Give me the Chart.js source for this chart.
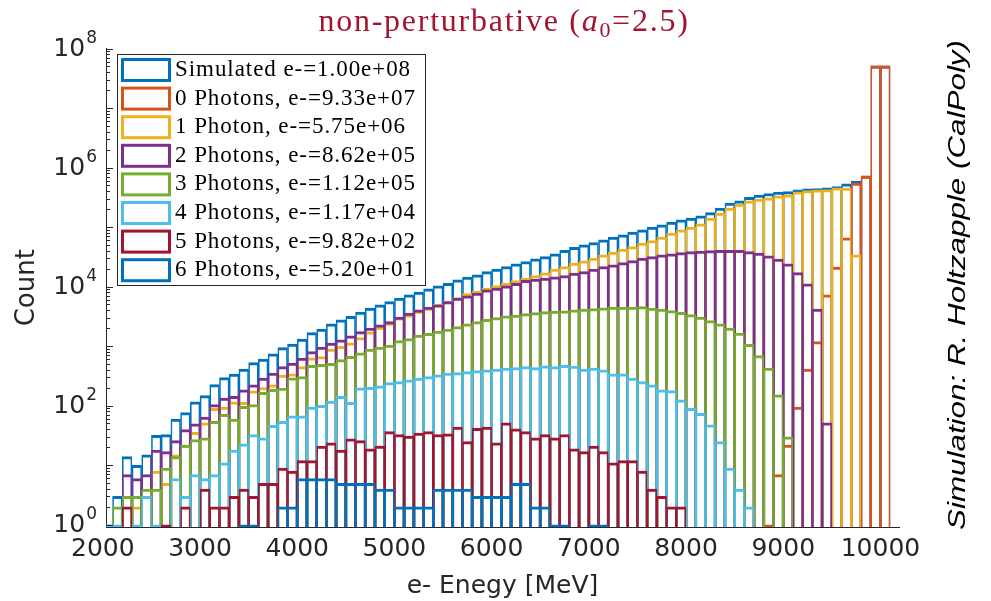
<!DOCTYPE html>
<html>
<head>
<meta charset="utf-8">
<title>non-perturbative histogram</title>
<script src="https://cdn.jsdelivr.net/npm/chart.js@4.4.0/dist/chart.umd.min.js"></script>
<style>
  html, body { margin: 0; padding: 0; background: #ffffff; }
  #wrap { width: 991px; height: 601px; position: relative; }
</style>
</head>
<body>
<div id="wrap"><canvas id="histChart"></canvas></div>
<script>
// bin centres in MeV (100 MeV bins)
const binCenters = [2050, 2150, 2250, 2350, 2450, 2550, 2650, 2750, 2850, 2950,
  3050, 3150, 3250, 3350, 3450, 3550, 3650, 3750, 3850, 3950,
  4050, 4150, 4250, 4350, 4450, 4550, 4650, 4750, 4850, 4950,
  5050, 5150, 5250, 5350, 5450, 5550, 5650, 5750, 5850, 5950,
  6050, 6150, 6250, 6350, 6450, 6550, 6650, 6750, 6850, 6950,
  7050, 7150, 7250, 7350, 7450, 7550, 7650, 7750, 7850, 7950,
  8050, 8150, 8250, 8350, 8450, 8550, 8650, 8750, 8850, 8950,
  9050, 9150, 9250, 9350, 9450, 9550, 9650, 9750, 9850, 9950,
  10050];

const xTicks = [2000, 3000, 4000, 5000, 6000, 7000, 8000, 9000, 10000];
const yTicks = [1, 1e2, 1e4, 1e6, 1e8];

const seriesLabels = [
  "Simulated e-=1.00e+08",
  "0 Photons, e-=9.33e+07",
  "1 Photon, e-=5.75e+06",
  "2 Photons, e-=8.62e+05",
  "3 Photons, e-=1.12e+05",
  "4 Photons, e-=1.17e+04",
  "5 Photons, e-=9.82e+02",
  "6 Photons, e-=5.20e+01"
];
const seriesColors = ["#0072BD", "#D95319", "#EDB120", "#7E2F8E", "#77AC30", "#4DBEEE", "#A2142F", "#0072BD"];

const simulated = [1, 3, 14, 10, 15, 32, 33, 60, 77, 117,
  148, 228, 299, 341, 413, 535, 608, 748, 955, 1090,
  1320, 1710, 1950, 2400, 2800, 3200, 3750, 4380, 4980, 5670,
  6450, 7340, 8130, 9250, 10400, 11500, 13100, 14600, 15900, 18100,
  19800, 22000, 24400, 26600, 29600, 32300, 35900, 41000, 46000, 50800,
  55600, 61600, 68400, 74800, 83000, 90800, 100700, 110200, 122200, 133600,
  142600, 156000, 177400, 210000, 254800, 278700, 320000, 350000, 370000, 390000,
  400000, 427000, 444000, 450000, 461000, 485000, 538000, 597000, 734000, 52000000,
  52000000];

const photons0 = [null, null, null, null, null, null, null, null, null, null,
  null, null, null, null, null, null, null, null, null, null,
  null, null, null, null, null, null, null, null, null, null,
  null, null, null, null, null, null, null, null, null, null,
  null, null, null, null, null, null, null, null, null, null,
  null, null, null, null, null, null, null, null, null, null,
  null, null, null, null, null, null, null, null, 1, 7,
  22, 95, 414, 1205, 7340, 21400, 66600, 553000, 730000, 52000000,
  52000000];

const photons1 = [null, null, null, 2, null, 8, 5, 15, 22, 36,
  52, 91, 95, 117, 114, 179, 203, 225, 330, 345,
  457, 640, 674, 900, 1000, 1150, 1400, 1750, 2100, 2450,
  3000, 3400, 3900, 4400, 5100, 5700, 6600, 7700, 8500, 9500,
  10500, 11500, 12700, 14000, 15500, 17200, 19800, 22000, 25000, 27300,
  30300, 34500, 38300, 43000, 47600, 54200, 60100, 68400, 79800, 90800,
  100700, 114500, 142600, 173000, 210000, 245000, 279000, 298000, 313000, 338000,
  352000, 395000, 416000, 427000, 432000, 461000, 455000, 34500, null, null,
  null];

const photons2 = [null, null, 7, 6, 7, 18, 17, 26, 40, 50,
  65, 105, 135, 144, 186, 225, 292, 354, 458, 521,
  633, 818, 968, 1130, 1285, 1500, 1775, 2020, 2300, 2610,
  3090, 3610, 4100, 4550, 4980, 5670, 6450, 7060, 7830, 8910,
  9500, 10400, 11500, 12800, 13500, 14000, 14700, 15500, 17000, 18100,
  19800, 21900, 23400, 25600, 27700, 30300, 32300, 34500, 35900, 37700,
  39300, 40000, 40500, 41000, 41000, 41000, 39300, 36800, 33200, 29200,
  24400, 17400, 11200, 4220, 52, null, null, null, null, null,
  null];

const photons3 = [null, 2, 3, 3, 4, 4, 9, 14, 22, 27,
  29, 55, 72, 60, 98, 105, 168, 190, 198, 295,
  311, 480, 500, 520, 600, 680, 780, 900, 970, 1050,
  1250, 1350, 1550, 1650, 1800, 1950, 2150, 2400, 2600, 2850,
  3050, 3250, 3350, 3550, 3700, 3850, 3900, 3950, 4100, 4220,
  4330, 4440, 4550, 4550, 4550, 4670, 4380, 4220, 4000, 3710,
  3430, 3090, 2720, 2390, 2020, 1665, 1080, 700, 430, 153,
  30, null, null, null, null, null, null, null, null, null,
  null];

const photons4 = [1, 1, null, 1, 3, 1, null, 6, 3, 7,
  6, 7, 11, 18, 23, 33, 29, 47, 55, 68,
  68, 95, 102, 120, 144, 115, 200, 205, 217, 247,
  256, 273, 292, 311, 332, 354, 363, 378, 393, 403,
  413, 430, 441, 458, 441, 470, 458, 480, 465, 413,
  430, 403, 345, 345, 292, 256, 225, 186, 181, 126,
  91, 75, 48, 25, 9, 4, 2, null, null, null,
  null, null, null, null, null, null, null, null, null, null,
  null];

const photons5 = [null, null, 2, null, null, null, 1, null, 2, null,
  4, 2, 2, 3, 4, 3, 5, 5, 9, 8,
  12, 12, 21, 24, 18, 28, 26, 19, 21, 37,
  33, 31, 35, 37, 33, 34, 44, 25, 42, 44,
  24, 52, 41, 37, 29, 33, 29, 33, 19, 17,
  21, 17, 11, 12, 12, 8, 4, 3, 2, 2,
  null, null, null, null, null, null, null, null, null, null,
  null, null, null, null, null, null, null, null, null, null,
  null];

const photons6 = [null, null, null, null, null, null, null, null, null, null,
  null, null, null, null, 1, 1, null, null, 2, 2,
  6, 6, 6, 6, 5, 5, 5, 5, 4, 4,
  2, 2, 2, 2, 4, 4, 4, 4, 3, 3,
  3, 3, 5, 5, 2, 2, 1, 1, null, null,
  1, 1, null, null, null, null, null, null, null, null,
  null, null, null, null, null, null, null, null, null, null,
  null, null, null, null, null, null, null, null, null, null,
  null];

const creditText = "Simulation: R. Holtzapple (CalPoly)";
const axisGray = "#262626";

const allSeries = [simulated, photons0, photons1, photons2, photons3, photons4, photons5, photons6];

const datasets = allSeries.map(function (vals, i) {
  return {
    label: seriesLabels[i],
    data: binCenters.map(function (x, j) { return { x: x, y: vals[j] }; }),
    borderColor: seriesColors[i],
    backgroundColor: "rgba(0,0,0,0)",
    borderWidth: { top: 3, left: 1.6, right: 1.6, bottom: 0 },
    grouped: false,
    // a touch wider than the bin so neighbouring edges overlap (no light seam)
    barPercentage: 1.06,
    categoryPercentage: 1,
    inflateAmount: 0,
    base: 0.5,
    clip: 0,
    order: allSeries.length - 1 - i   // first series drawn first (at the back)
  };
});

/* ==========================
   LEGEND BOX (inside axes)
========================== */
function drawLegend(chart) {
  const ctx = chart.ctx;
  ctx.save();
  ctx.fillStyle = "#ffffff";
  ctx.fillRect(117.5, 54.5, 308, 231);
  ctx.strokeStyle = axisGray;
  ctx.lineWidth = 1;
  ctx.strokeRect(117.5, 54.5, 308, 231);

  ctx.font = '23px "Liberation Serif"';
  const natural = ctx.measureText(seriesLabels[0]).width;
  const spacing = (236 - natural) / seriesLabels[0].length;
  if ("letterSpacing" in ctx) ctx.letterSpacing = spacing.toFixed(2) + "px";

  chart.data.datasets.forEach(function (ds, i) {
    const cy = 69.5 + 28.6 * i;
    ctx.lineWidth = 3;
    ctx.strokeStyle = ds.borderColor;
    ctx.strokeRect(122.5, cy - 10, 47, 21);
    ctx.fillStyle = "#000000";
    ctx.textAlign = "left";
    ctx.textBaseline = "alphabetic";
    ctx.fillText(ds.label, 175, cy + 6.5);
  });
  if ("letterSpacing" in ctx) ctx.letterSpacing = "0px";
  ctx.restore();
}

/* ==========================
   TITLE WITH SUBSCRIPT
========================== */
function drawTitle(chart) {
  const ctx = chart.ctx;
  const parts = [
    { t: "non-perturbative (", f: '32px "Liberation Serif"', dy: 0 },
    { t: "a", f: 'italic 32px "Liberation Serif"', dy: 0 },
    { t: "0", f: '22px "Liberation Serif"', dy: 6 },
    { t: "=2.5)", f: '32px "Liberation Serif"', dy: 0 }
  ];
  ctx.save();
  let total = 0, chars = 0;
  parts.forEach(function (p) {
    ctx.font = p.f;
    p.w = ctx.measureText(p.t).width;
    total += p.w;
    chars += p.t.length;
  });
  const target = 371;
  const sp = Math.max(0, (target - total) / chars);
  let x = 504 - target / 2;
  ctx.fillStyle = "#A2142F";
  ctx.textAlign = "left";
  ctx.textBaseline = "alphabetic";
  parts.forEach(function (p) {
    ctx.font = p.f;
    if ("letterSpacing" in ctx) ctx.letterSpacing = sp.toFixed(2) + "px";
    ctx.fillText(p.t, x, 31 + p.dy);
    x += p.w + sp * p.t.length;
  });
  if ("letterSpacing" in ctx) ctx.letterSpacing = "0px";
  ctx.restore();
}

/* ==========================
   ROTATED CREDIT ON THE RIGHT
========================== */
function drawCredit(chart) {
  const ctx = chart.ctx;
  ctx.save();
  ctx.font = 'italic 24px "Liberation Sans"';
  const w = ctx.measureText(creditText).width;
  ctx.translate(958, 285);
  ctx.rotate(-Math.PI / 2);
  ctx.scale(490 / w, 1);
  ctx.fillStyle = "#000000";
  ctx.textAlign = "center";
  ctx.textBaseline = "middle";
  ctx.fillText(creditText, 0, 0);
  ctx.restore();
}

/* ==========================
   Y TICK LABELS: 10 with a raised exponent
========================== */
function drawPowerLabels(chart) {
  const ctx = chart.ctx;
  const yScale = chart.scales.y;
  ctx.save();
  ctx.fillStyle = axisGray;
  ctx.textBaseline = "middle";
  yTicks.forEach(function (v) {
    const py = yScale.getPixelForValue(v);
    const exp = String(Math.round(Math.log10(v)));
    ctx.font = '17px "DejaVu Sans"';
    const ew = ctx.measureText(exp).width;
    ctx.textAlign = "right";
    ctx.fillText(exp, 97, py - 10);
    ctx.font = '25px "DejaVu Sans"';
    ctx.fillText("10", 97 - ew - 1, py + 1);
  });
  ctx.restore();
}

const decorPlugin = {
  id: "decor",
  afterDatasetsDraw(chart) {
    const ctx = chart.ctx;
    const yScale = chart.scales.y;
    const left = chart.chartArea.left;
    // inward log ticks on the left axis
    ctx.save();
    ctx.strokeStyle = axisGray;
    ctx.lineWidth = 1;
    for (let e = 0; e <= 8; e++) {
      for (let m = 1; m <= 9; m++) {
        const v = m * Math.pow(10, e);
        if (v > 1e8) break;
        const py = Math.round(yScale.getPixelForValue(v)) + 0.5;
        ctx.beginPath();
        ctx.moveTo(left, py);
        ctx.lineTo(left + (m === 1 ? 7 : 4), py);
        ctx.stroke();
      }
    }
    ctx.restore();
    drawLegend(chart);
  },
  afterDraw(chart) {
    drawPowerLabels(chart);
    drawTitle(chart);
    drawCredit(chart);
  }
};

new Chart(document.getElementById("histChart").getContext("2d"), {
  type: "bar",
  data: { datasets: datasets },
  options: {
    responsive: true,
    maintainAspectRatio: false,
    animation: false,
    events: [],
    layout: { padding: { top: 48.5, right: 92, bottom: 0, left: 0 } },
    plugins: {
      legend: { display: false },
      tooltip: { enabled: false }
    },
    scales: {
      x: {
        type: "linear",
        offset: false,
        min: 2033,
        max: 10191,
        grid: { display: false, drawTicks: false },
        border: { display: true, color: axisGray, width: 1 },
        afterBuildTicks: function (s) { s.ticks = xTicks.map(function (v) { return { value: v }; }); },
        afterFit: function (s) { s.height = 74; },
        ticks: {
          autoSkip: false,
          maxRotation: 0,
          padding: 7,
          color: axisGray,
          font: { family: "DejaVu Sans", size: 25 },
          callback: function (v) { return String(v); }
        },
        title: {
          display: true,
          text: "e- Enegy [MeV]",
          color: axisGray,
          font: { family: "DejaVu Sans", size: 25 },
          padding: { top: 0, bottom: 0 }
        }
      },
      y: {
        type: "logarithmic",
        min: 0.9078,
        max: 1e8,
        grid: { display: false, drawTicks: false },
        border: { display: true, color: axisGray, width: 1 },
        afterBuildTicks: function (s) { s.ticks = yTicks.map(function (v) { return { value: v }; }); },
        afterFit: function (s) { s.width = 106; },
        ticks: { display: false },
        title: {
          display: true,
          text: "Count",
          color: axisGray,
          font: { family: "DejaVu Sans", size: 26 },
          padding: { top: 12, bottom: 0 }
        }
      }
    }
  },
  plugins: [decorPlugin]
});
</script>
</body>
</html>
